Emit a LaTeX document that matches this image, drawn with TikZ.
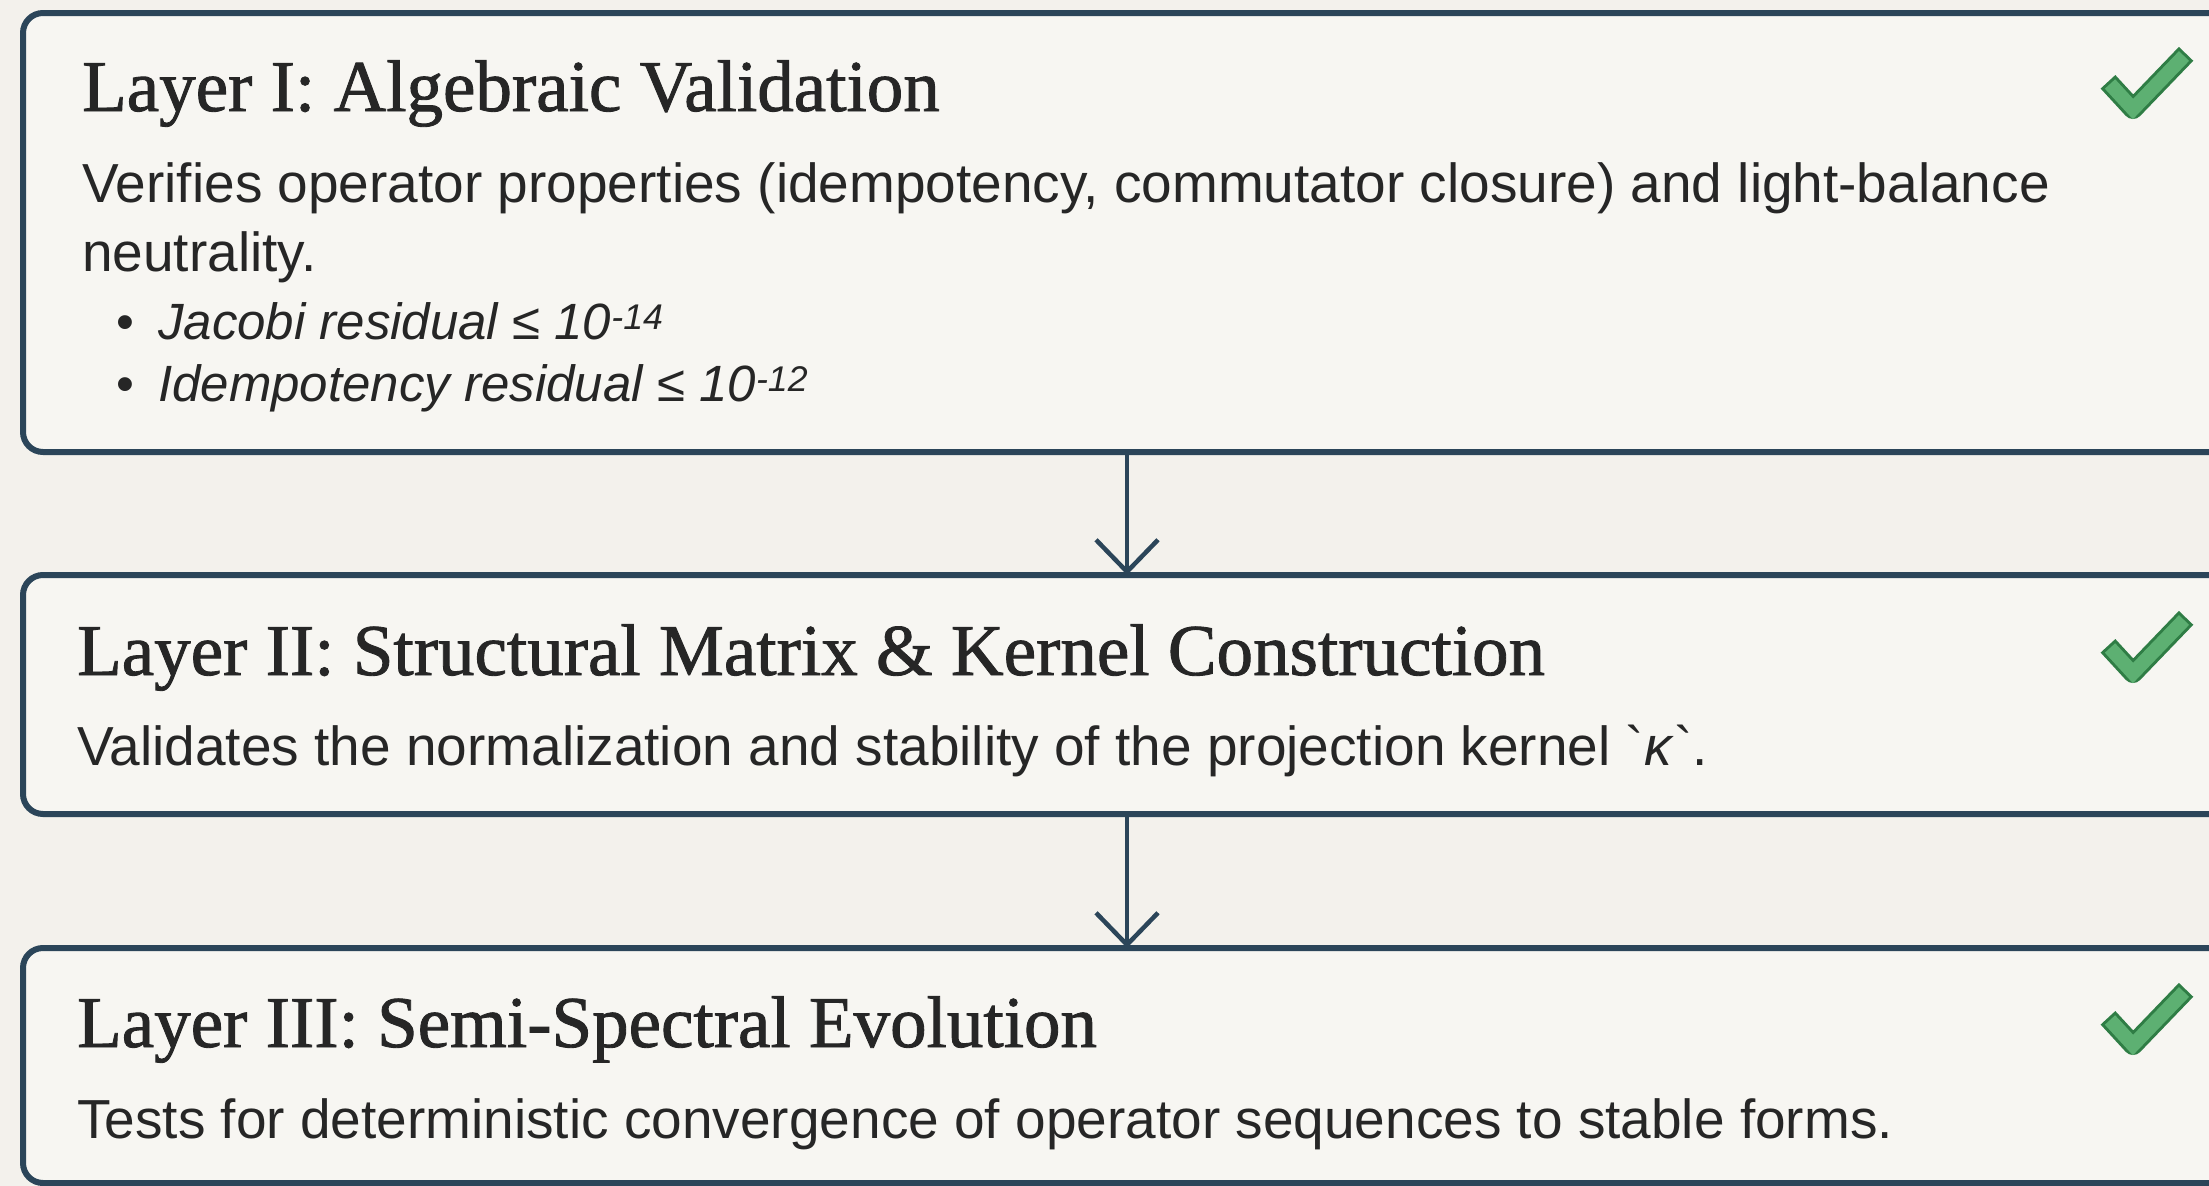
\documentclass[tikz,border=0pt]{standalone}
\usepackage{fontspec}
\setmainfont{Liberation Sans}
\newfontfamily\titlefont[FakeBold=1.2]{Liberation Serif}
\usetikzlibrary{arrows.meta}

\definecolor{bgcol}{HTML}{F3F1EC}
\definecolor{boxfill}{HTML}{F7F6F2}
\definecolor{edgecol}{HTML}{2B4559}
\definecolor{inkcol}{HTML}{262626}
\definecolor{tickfill}{HTML}{5DB072}
\definecolor{tickedge}{HTML}{2F7D45}

\tikzset{
  layer/.style={draw=edgecol, line width=6pt, fill=boxfill, rounded corners=20pt,
    minimum width=2208pt, inner sep=0pt, outer sep=0pt, anchor=north west},
  heading/.style={anchor=base west, inner sep=0pt, text=inkcol,
    font=\titlefont\fontsize{73}{80}\selectfont},
  desc/.style={anchor=base west, inner sep=0pt, text=inkcol,
    font=\fontsize{55}{60}\selectfont},
  item/.style={anchor=base west, inner sep=0pt, text=inkcol,
    font=\fontsize{51}{56}\selectfont\itshape},
  flow/.style={draw=edgecol, line width=4.5pt, -{Straight Barb[length=32pt,width=62pt]}},
  okmark/.pic={
    \draw[tickedge, line width=20pt, line join=round, shorten <=-3pt, shorten >=-3pt] (-37,0) -- (-14,25) -- (37,-28);
    \draw[tickfill, line width=14pt] (-37,0) -- (-14,25) -- (37,-28);
  }
}

\begin{document}
\begin{tikzpicture}[x=1pt, y=-1pt]
  \fill[bgcol] (0,0) rectangle (2209,1186);
  \useasboundingbox (0,0) rectangle (2209,1186);

  % the three layers
  \node[layer, minimum height=439pt] (l1) at (23,13) {};
  \node[layer, minimum height=239pt] (l2) at (23,575) {};
  \node[layer, minimum height=235pt] (l3) at (23,948) {};

  \draw[flow] (l1.south) -- (l2.north);
  \draw[flow] (l2.south) -- (l3.north);

  % layer I
  \node[heading] (t1) at (82,111) {Layer I: Algebraic Validation};
  \node[desc] (d1) at (82,202) {Verifies operator properties (idempotency, commutator closure) and light-balance};
  \node[desc] (d1b) at (82,271) {neutrality.};
  \node[item] (i1) at (158,339) {\llap{\upshape•\hspace{24pt}}Jacobi residual ≤ 10\textsuperscript{-14}};
  \node[item] (i2) at (158,401) {\llap{\upshape•\hspace{24pt}}Idempotency residual ≤ 10\textsuperscript{-12}};
  \pic at (2147,84) {okmark};

  % layer II
  \node[heading] (t2) at (77,675) {Layer II: Structural Matrix \& Kernel Construction};
  \node[desc] (d2) at (77,765) {Validates the normalization and stability of the projection kernel \textasciigrave\textit{κ}\textasciigrave.};
  \pic at (2147,648) {okmark};

  % layer III
  \node[heading] (t3) at (77,1047) {Layer III: Semi-Spectral Evolution};
  \node[desc] (d3) at (77,1138) {Tests for deterministic convergence of operator sequences to stable forms.};
  \pic at (2147,1020) {okmark};
\end{tikzpicture}
\end{document}
